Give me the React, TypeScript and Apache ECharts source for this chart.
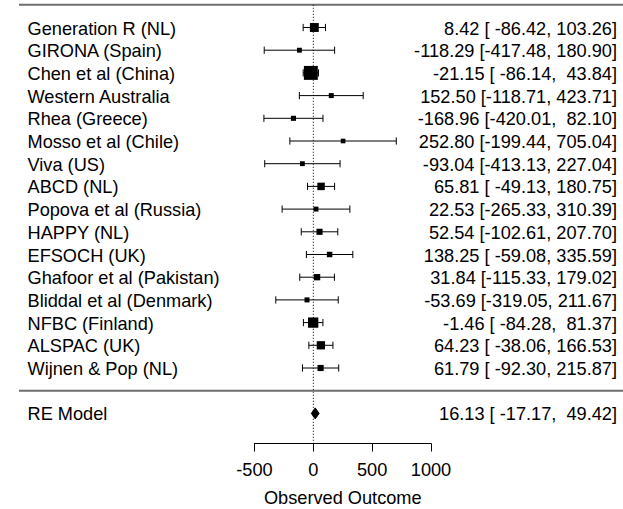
import React, { useEffect, useRef } from "react";
import * as echarts from "echarts";

// ---------- data ----------
const studies = [
  "Generation R (NL)",
  "GIRONA (Spain)",
  "Chen et al (China)",
  "Western Australia",
  "Rhea (Greece)",
  "Mosso et al (Chile)",
  "Viva (US)",
  "ABCD (NL)",
  "Popova et al (Russia)",
  "HAPPY (NL)",
  "EFSOCH (UK)",
  "Ghafoor et al (Pakistan)",
  "Bliddal et al (Denmark)",
  "NFBC (Finland)",
  "ALSPAC (UK)",
  "Wijnen & Pop (NL)",
];
const estimates = [8.42, -118.29, -21.15, 152.5, -168.96, 252.8, -93.04, 65.81, 22.53, 52.54, 138.25, 31.84, -53.69, -1.46, 64.23, 61.79];
const lowerCI = [-86.42, -417.48, -86.14, -118.71, -420.01, -199.44, -413.13, -49.13, -265.33, -102.61, -59.08, -115.33, -319.05, -84.28, -38.06, -92.3];
const upperCI = [103.26, 180.9, 43.84, 423.71, 82.1, 705.04, 227.04, 180.75, 310.39, 207.7, 335.59, 179.02, 211.67, 81.37, 166.53, 215.87];
const summaryLabel = "RE Model";
const summaryEstimate = [16.13];
const summaryLower = [-17.17];
const summaryUpper = [49.42];
const xTicks = [-500, 0, 500, 1000];
const xAxisTitle = "Observed Outcome";

// ---------- layout ----------
const W = 623;
const H = 509;
const AX_LEFT_PX = 254.5;
const AX_RIGHT_PX = 431;
const ROW_TOP_PX = 27.5;
const ROW_STEP = 22.7;
const GRID_TOP = ROW_TOP_PX - ROW_STEP;
const AXIS_Y = 443.5;
const LINE_LEFT_PX = 19;
const LABEL_LEFT_PX = 27.5;
const LABEL_RIGHT_PX = 617;
const FS = 18.2;
const FONT = '"Liberation Sans", Arial, sans-serif';
const TEXT_DY = 1;

const K = (AX_RIGHT_PX - AX_LEFT_PX) / (xTicks[xTicks.length - 1] - xTicks[0]);
const X_MIN = xTicks[0] - AX_LEFT_PX / K;
const X_MAX = xTicks[xTicks.length - 1] + (W - AX_RIGHT_PX) / K;
const k = studies.length;
const Y_MAX = k + 1;
const Y_MIN = Y_MAX - (AXIS_Y - GRID_TOP) / ROW_STEP;

const fmt = (v: number) => v.toFixed(2);
const allLower = lowerCI.concat(summaryLower).map(fmt);
const allUpper = upperCI.concat(summaryUpper).map(fmt);
const lbW = Math.max(...allLower.map((s) => s.length));
const ubW = Math.max(...allUpper.map((s) => s.length));
const annot = (e: number, l: number, u: number) =>
  `${fmt(e)} [${fmt(l).padStart(lbW)}, ${fmt(u).padStart(ubW)}]`;

// box sizes from inverse-variance weights (metafor style, psize 0.5..1.5)
const weights = lowerCI.map((l, i) => {
  const se = (upperCI[i] - l) / 3.92;
  return 1 / (se * se);
});
const wMin = Math.min(...weights);
const wMax = Math.max(...weights);
const BOX_UNIT = 9.3;
const boxPx = weights.map((w) => (0.5 + (w - wMin) / (wMax - wMin)) * BOX_UNIT);

export default function App() {
  const ref = useRef<HTMLDivElement>(null);
  useEffect(() => {
    if (!ref.current) return;
    const chart = echarts.init(ref.current, null, { renderer: "svg" });

    const studyData = studies.map((s, i) => [estimates[i], lowerCI[i], upperCI[i], k - i, boxPx[i]]);
    const labelData = studies
      .map((s, i) => [k - i, s, annot(estimates[i], lowerCI[i], upperCI[i])])
      .concat([[-1, summaryLabel, annot(summaryEstimate[0], summaryLower[0], summaryUpper[0])]]);

    const stroke = "#000";
    const CAP = 3.6;

    const option: any = {
      animation: false,
      backgroundColor: "#fff",
      grid: [
        { left: 0, top: GRID_TOP, width: W, height: AXIS_Y - GRID_TOP, outerBoundsMode: "none", containLabel: false },
        { left: AX_LEFT_PX, top: GRID_TOP, width: AX_RIGHT_PX - AX_LEFT_PX, height: AXIS_Y - GRID_TOP, outerBoundsMode: "none", containLabel: false },
      ],
      xAxis: [
        { type: "value", gridIndex: 0, min: X_MIN, max: X_MAX, show: false },
        {
          type: "value",
          gridIndex: 1,
          min: xTicks[0],
          max: xTicks[xTicks.length - 1],
          interval: xTicks[1] - xTicks[0],
          position: "bottom",
          axisLine: { show: true, onZero: false, lineStyle: { color: "#000", width: 1 } },
          axisTick: { show: true, length: 8, lineStyle: { color: "#000", width: 1 } },
          axisLabel: {
            show: true,
            color: "#000",
            fontSize: FS,
            fontFamily: FONT,
            margin: 17,
            showMinLabel: true,
            showMaxLabel: true,
            formatter: (v: number) => String(v),
          },
          splitLine: { show: false },
          name: xAxisTitle,
          nameLocation: "middle",
          nameGap: 45,
          nameTextStyle: { color: "#000", fontSize: FS, fontFamily: FONT },
        },
      ],
      yAxis: [
        { type: "value", gridIndex: 0, min: Y_MIN, max: Y_MAX, show: false },
        { type: "value", gridIndex: 1, min: Y_MIN, max: Y_MAX, show: false },
      ],
      series: [
        {
          type: "custom",
          name: "frame",
          xAxisIndex: 0,
          yAxisIndex: 0,
          clip: false,
          silent: true,
          data: [[0, 0]],
          renderItem: (params: any, api: any) => {
            const yTop = api.coord([0, Y_MAX])[1];
            const ySep = api.coord([0, 0])[1];
            const yBot = api.coord([0, Y_MIN])[1];
            const x0 = api.coord([0, 0])[0];
            const hl = { stroke: "#6e6e6e", lineWidth: 2 };
            return {
              type: "group",
              children: [
                { type: "line", shape: { x1: LINE_LEFT_PX, y1: yTop, x2: W, y2: yTop }, style: hl },
                { type: "line", shape: { x1: LINE_LEFT_PX, y1: ySep, x2: W, y2: ySep }, style: hl },
                { type: "line", shape: { x1: x0, y1: yTop, x2: x0, y2: yBot }, style: { stroke: "#000", lineWidth: 1, lineDash: [1, 2] } },
              ],
            };
          },
        },
        {
          type: "custom",
          name: "studies",
          xAxisIndex: 0,
          yAxisIndex: 0,
          clip: false,
          silent: true,
          encode: { x: [0, 1, 2], y: 3 },
          data: studyData,
          renderItem: (params: any, api: any) => {
            const y = api.coord([0, api.value(3)])[1];
            const xe = api.coord([api.value(0), 0])[0];
            const xl = api.coord([api.value(1), 0])[0];
            const xu = api.coord([api.value(2), 0])[0];
            const s = api.value(4);
            const st = { stroke, lineWidth: 1 };
            return {
              type: "group",
              children: [
                { type: "line", shape: { x1: xl, y1: y, x2: xu, y2: y }, style: st },
                { type: "line", shape: { x1: xl, y1: y - CAP, x2: xl, y2: y + CAP }, style: st },
                { type: "line", shape: { x1: xu, y1: y - CAP, x2: xu, y2: y + CAP }, style: st },
                { type: "rect", shape: { x: xe - s / 2, y: y - s / 2, width: s, height: s }, style: { fill: "#000" } },
              ],
            };
          },
        },
        {
          type: "custom",
          name: "summary",
          xAxisIndex: 0,
          yAxisIndex: 0,
          clip: false,
          silent: true,
          encode: { x: [0, 1, 2], y: 3 },
          data: [[summaryEstimate[0], summaryLower[0], summaryUpper[0], -1]],
          renderItem: (params: any, api: any) => {
            const y = api.coord([0, api.value(3)])[1];
            const xe = api.coord([api.value(0), 0])[0];
            const xl = api.coord([api.value(1), 0])[0];
            const xu = api.coord([api.value(2), 0])[0];
            const h = 5.5;
            return {
              type: "polygon",
              shape: { points: [[xl, y], [xe, y - h], [xu, y], [xe, y + h]] },
              style: { fill: "#000", stroke: "#000", lineWidth: 1 },
            };
          },
        },
        {
          type: "custom",
          name: "labels",
          xAxisIndex: 0,
          yAxisIndex: 0,
          clip: false,
          silent: true,
          encode: { y: 0 },
          data: labelData,
          renderItem: (params: any, api: any) => {
            const d = labelData[params.dataIndex];
            const y = api.coord([0, d[0] as number])[1] + TEXT_DY;
            return {
              type: "group",
              children: [
                {
                  type: "text",
                  x: LABEL_LEFT_PX,
                  y,
                  style: { text: d[1], fill: "#000", fontSize: FS, fontFamily: FONT, align: "left", verticalAlign: "middle" },
                },
                {
                  type: "text",
                  x: LABEL_RIGHT_PX,
                  y,
                  style: { text: d[2], fill: "#000", fontSize: FS, fontFamily: FONT, align: "right", verticalAlign: "middle" },
                },
              ],
            };
          },
        },
        { type: "scatter", xAxisIndex: 1, yAxisIndex: 1, data: [], silent: true },
      ],
    };
    chart.setOption(option);
    return () => chart.dispose();
  }, []);
  return (
    <div
      ref={ref}
      style={{ position: "absolute", left: 0, top: 0, width: W, height: H, background: "#fff" }}
    />
  );
}
